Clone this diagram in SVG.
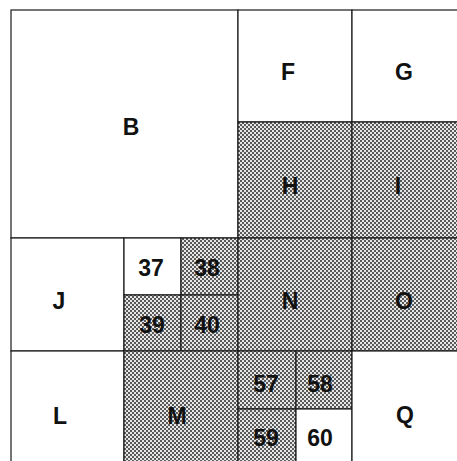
<svg xmlns="http://www.w3.org/2000/svg" width="457" height="461" viewBox="0 0 457 461">
  <defs>
    <pattern id="dots" patternUnits="userSpaceOnUse" width="4" height="4">
      <rect width="4" height="4" fill="#e6e6e6"/>
      <circle cx="1" cy="1" r="0.95" fill="#1e1e1e"/>
      <circle cx="3" cy="3" r="0.95" fill="#1e1e1e"/>
    </pattern>
  </defs>
  <style>
    .cell { fill: #ffffff; stroke: #1a1a1a; stroke-width: 1.2; }
    .shade { fill: url(#dots); stroke: #1a1a1a; stroke-width: 1.2; }
    .lbl { font-family: "Liberation Sans", Arial, sans-serif; font-weight: bold; font-size: 23px; fill: #111; text-anchor: middle; }
  </style>
  <rect width="457" height="461" fill="#ffffff"/>
  <g id="B"><rect class="cell" x="11" y="10" width="227" height="228"/><text class="lbl" x="131" y="135">B</text></g>
  <g id="F"><rect class="cell" x="238" y="10" width="114" height="112"/><text class="lbl" x="288" y="80">F</text></g>
  <g id="G"><rect class="cell" x="352" y="10" width="120" height="112"/><text class="lbl" x="404" y="80">G</text></g>
  <g id="H"><rect class="shade" x="238" y="122" width="114" height="116"/><text class="lbl" x="290" y="194">H</text></g>
  <g id="I"><rect class="shade" x="352" y="122" width="120" height="116"/><text class="lbl" x="398" y="194">I</text></g>
  <g id="J"><rect class="cell" x="11" y="238" width="113" height="113"/><text class="lbl" x="59" y="309">J</text></g>
  <g id="n37"><rect class="cell" x="124" y="238" width="57" height="57"/><text class="lbl" x="151" y="276">37</text></g>
  <g id="n38"><rect class="shade" x="181" y="238" width="57" height="57"/><text class="lbl" x="207" y="276">38</text></g>
  <g id="n39"><rect class="shade" x="124" y="295" width="57" height="56"/><text class="lbl" x="152" y="333">39</text></g>
  <g id="n40"><rect class="shade" x="181" y="295" width="57" height="56"/><text class="lbl" x="207" y="333">40</text></g>
  <g id="N"><rect class="shade" x="238" y="238" width="114" height="113"/><text class="lbl" x="290" y="309">N</text></g>
  <g id="O"><rect class="shade" x="352" y="238" width="120" height="113"/><text class="lbl" x="404" y="309">O</text></g>
  <g id="L"><rect class="cell" x="11" y="351" width="113" height="120"/><text class="lbl" x="60" y="424">L</text></g>
  <g id="M"><rect class="shade" x="124" y="351" width="114" height="120"/><text class="lbl" x="177" y="424">M</text></g>
  <g id="n57"><rect class="shade" x="238" y="351" width="58" height="58"/><text class="lbl" x="266" y="392">57</text></g>
  <g id="n58"><rect class="shade" x="296" y="351" width="56" height="58"/><text class="lbl" x="320" y="392">58</text></g>
  <g id="n59"><rect class="shade" x="238" y="409" width="58" height="60"/><text class="lbl" x="266" y="446">59</text></g>
  <g id="n60"><rect class="cell" x="296" y="409" width="56" height="60"/><text class="lbl" x="320" y="446">60</text></g>
  <g id="Q"><rect class="cell" x="352" y="351" width="120" height="120"/><text class="lbl" x="405" y="423">Q</text></g>
</svg>
